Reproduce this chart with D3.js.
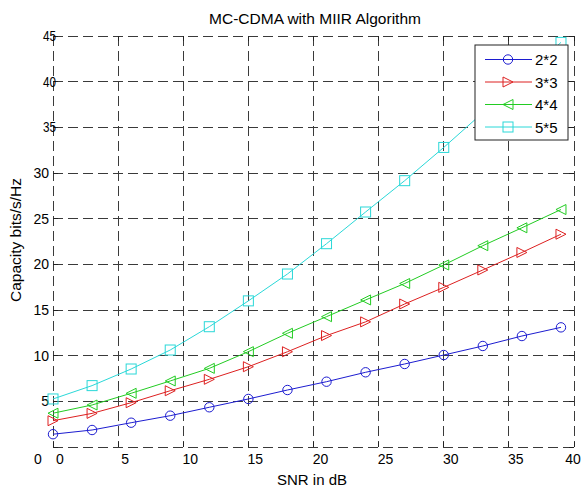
<!DOCTYPE html>
<html lang="en">
<head>
<meta charset="utf-8">
<title>MC-CDMA with MIIR Algorithm</title>
<script src="https://cdn.jsdelivr.net/npm/d3@7"></script>
<style>
  body { margin: 0; background: #fff; }
  svg text { font-family: "Liberation Sans", Arial, sans-serif; fill: #000; }
  .grid line { stroke: #3a3a3a; stroke-width: 1; stroke-dasharray: 10,5; shape-rendering: crispEdges; }
</style>
</head>
<body>
<script>
// data
var snr = [0, 3, 6, 9, 12, 15, 18, 21, 24, 27, 30, 33, 36, 39];
var cap22 = [1.4, 1.86, 2.66, 3.43, 4.35, 5.26, 6.24, 7.15, 8.18, 9.09, 10.07, 11.06, 12.15, 13.1];
var cap33 = [2.88, 3.68, 4.85, 6.16, 7.41, 8.79, 10.43, 12.2, 13.7, 15.66, 17.48, 19.38, 21.3, 23.3];
var cap44 = [3.7, 4.6, 5.88, 7.23, 8.61, 10.44, 12.45, 14.27, 16.1, 17.9, 19.93, 22.04, 24.0, 26.0];
var cap55 = [5.26, 6.72, 8.54, 10.62, 13.17, 16.0, 18.94, 22.26, 25.73, 29.16, 32.8, 36.6, 40.4, 44.3];
var seriesNames = ["2*2", "3*3", "4*4", "5*5"];
var xTicks = [0, 5, 10, 15, 20, 25, 30, 35, 40];
var yTicks = [0, 5, 10, 15, 20, 25, 30, 35, 40, 45];

var W = 585, H = 488;
var m = {left: 53, right: 11, top: 36, bottom: 41};
var iw = W - m.left - m.right, ih = H - m.top - m.bottom;

var x = d3.scaleLinear().domain([0, 40]).range([0, iw]);
var y = d3.scaleLinear().domain([0, 45]).range([ih, 0]);

var series = [
  {name: seriesNames[0], vals: cap22, color: "#1c1cd0", shape: "circle"},
  {name: seriesNames[1], vals: cap33, color: "#dd2020", shape: "right"},
  {name: seriesNames[2], vals: cap44, color: "#22cc22", shape: "left"},
  {name: seriesNames[3], vals: cap55, color: "#2ad8d8", shape: "square"}
];

var svg = d3.select("body").append("svg").attr("width", W).attr("height", H);
var g = svg.append("g").attr("transform", "translate(" + m.left + "," + m.top + ")");

// dashed grid (also makes the frame)
var grid = g.append("g").attr("class", "grid");
grid.selectAll(".vx").data(xTicks).enter().append("line")
  .attr("x1", function(d) { return x(d); }).attr("x2", function(d) { return x(d); })
  .attr("y1", 0).attr("y2", ih);
grid.selectAll(".hy").data(yTicks).enter().append("line")
  .attr("x1", 0).attr("x2", iw)
  .attr("y1", function(d) { return y(d); }).attr("y2", function(d) { return y(d); });

// small tick marks on all sides
var tk = g.append("g").attr("stroke", "#222").attr("shape-rendering", "crispEdges");
xTicks.forEach(function(d) {
  tk.append("line").attr("x1", x(d)).attr("x2", x(d)).attr("y1", ih).attr("y2", ih - 5);
  tk.append("line").attr("x1", x(d)).attr("x2", x(d)).attr("y1", 0).attr("y2", 5);
});
yTicks.forEach(function(d) {
  tk.append("line").attr("x1", 0).attr("x2", 5).attr("y1", y(d)).attr("y2", y(d));
  tk.append("line").attr("x1", iw).attr("x2", iw - 5).attr("y1", y(d)).attr("y2", y(d));
});

// x tick labels (slightly shifted as in the original)
g.selectAll(".xl").data(xTicks).enter().append("text")
  .attr("x", function(d) { return x(d) + (d === 40 ? -1 : 7); })
  .attr("y", ih + 17)
  .attr("text-anchor", "middle").attr("font-size", 14)
  .text(function(d) { return d; });

// y tick labels
g.selectAll(".yl").data(yTicks).enter().append("text")
  .attr("x", function(d) { return d >= 35 ? 3 : -4; })
  .attr("y", function(d) { return d === 0 ? ih + 17 : y(d) + 5; })
  .attr("text-anchor", function(d) { return d === 0 ? "middle" : "end"; })
  .attr("dx", function(d) { return d === 0 ? -11 : 0; })
  .attr("font-size", 14)
  .attr("textLength", function(d) { return d >= 35 ? 13 : null; })
  .attr("lengthAdjust", "spacingAndGlyphs")
  .text(function(d) { return d; });

// lines + markers
var line = d3.line().x(function(d, i) { return x(snr[i]); }).y(function(d) { return y(d); });

function marker(sel, shape, color) {
  var s = 5;
  if (shape === "circle") {
    sel.append("circle").attr("r", 4.7);
  } else if (shape === "square") {
    sel.append("rect").attr("x", -s).attr("y", -s).attr("width", 2 * s).attr("height", 2 * s);
  } else if (shape === "right") {
    sel.append("path").attr("d", "M" + (-s) + "," + (-s) + "L" + s + ",0L" + (-s) + "," + s + "Z");
  } else {
    sel.append("path").attr("d", "M" + s + "," + (-s) + "L" + (-s) + ",0L" + s + "," + s + "Z");
  }
  sel.attr("fill", "none").attr("stroke", color).attr("stroke-width", 1);
}

series.forEach(function(s) {
  g.append("path").datum(s.vals)
    .attr("d", line).attr("fill", "none")
    .attr("stroke", s.color).attr("stroke-width", 1);
  g.selectAll(null).data(s.vals).enter().append("g")
    .attr("transform", function(d, i) { return "translate(" + x(snr[i]) + "," + y(d) + ")"; })
    .each(function() { marker(d3.select(this), s.shape, s.color); });
});

// legend
var lg = svg.append("g").attr("transform", "translate(475,45)");
lg.append("rect").attr("width", 93).attr("height", 95)
  .attr("fill", "#fff").attr("stroke", "#222").attr("stroke-width", 1);
series.forEach(function(s, i) {
  var row = lg.append("g").attr("transform", "translate(0," + (14.5 + i * 22.5) + ")");
  row.append("line").attr("x1", 10).attr("x2", 57).attr("stroke", s.color);
  var mk = row.append("g").attr("transform", "translate(33,0)");
  marker(mk, s.shape, s.color);
  row.append("text").attr("x", 60).attr("y", 5.5).attr("font-size", 15).text(s.name);
});

// titles
svg.append("text").attr("x", 315).attr("y", 24).attr("text-anchor", "middle")
  .attr("font-size", 15.5).text("MC-CDMA with MIIR Algorithm");
svg.append("text").attr("x", 312).attr("y", 485).attr("text-anchor", "middle")
  .attr("font-size", 15).text("SNR in dB");
svg.append("text").attr("transform", "translate(21,240) rotate(-90)")
  .attr("text-anchor", "middle").attr("font-size", 15.5).text("Capacity bits/s/Hz");
</script>
</body>
</html>
